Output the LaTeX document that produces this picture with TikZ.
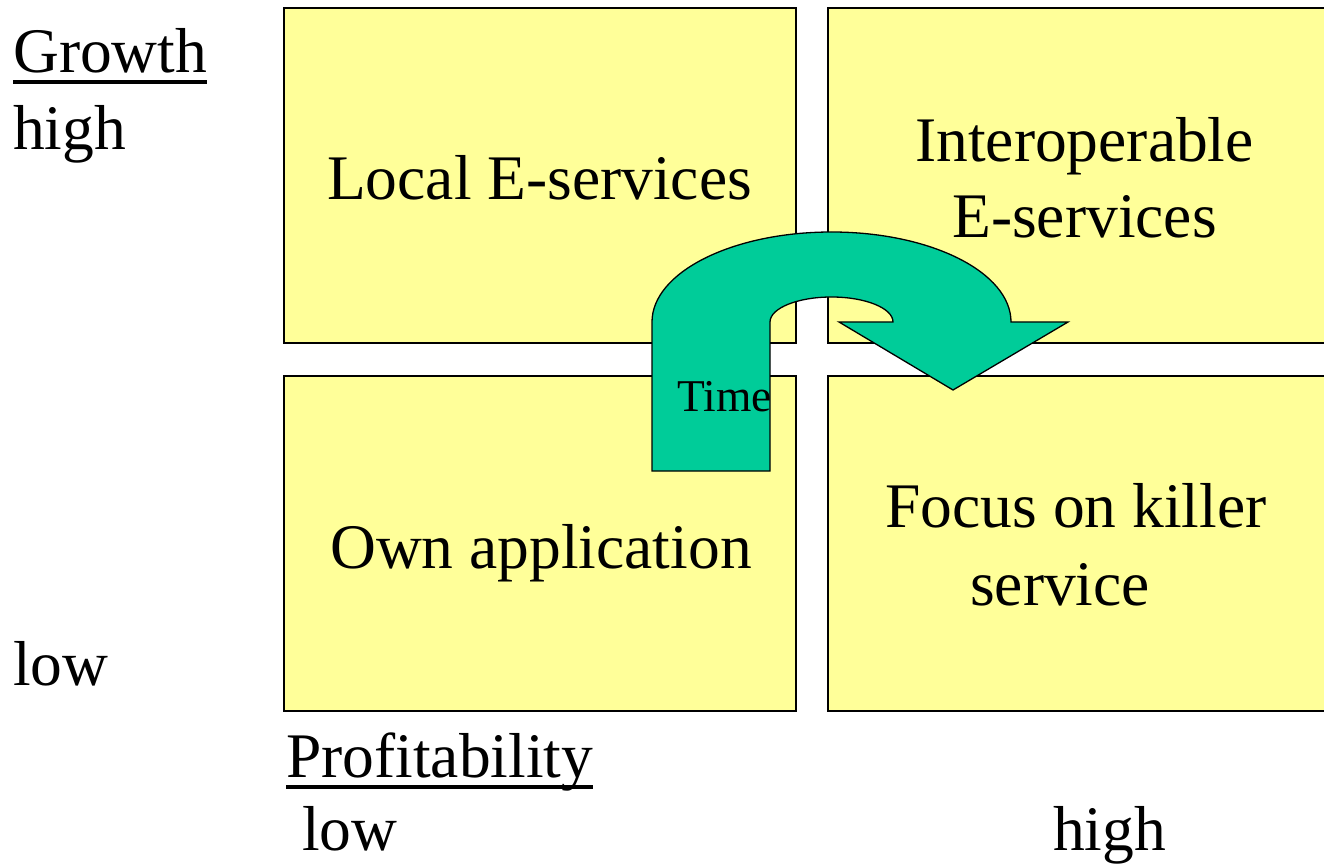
\documentclass[tikz,border=0pt]{standalone}
\usepackage{fontspec}
\setmainfont{Liberation Serif}
\definecolor{boxyellow}{HTML}{FFFF99}
\definecolor{arrowgreen}{HTML}{00CC99}
\begin{document}
\begin{tikzpicture}[x=1pt,y=1pt,
  quad/.style={draw=black,line width=1.3pt,fill=boxyellow},
  big/.style={inner sep=0pt,font=\fontsize{63.5}{76}\selectfont},
  small/.style={inner sep=0pt,font=\fontsize{45.5}{54}\selectfont},
  uline/.style={line width=3.4pt}]
\useasboundingbox (0,0) rectangle (1324,863);
\fill[white] (0,0) rectangle (1324,863);
% quadrants
\draw[quad] (284,855) rectangle (796,520);
\draw[quad] (828,855) rectangle (1326,520);
\draw[quad] (284,487) rectangle (796,152);
\draw[quad] (828,487) rectangle (1326,152);
% box texts
\node[big,anchor=base] (le) at (539.5,663) {Local E-services};
\node[big,anchor=base] (io1) at (1084.5,701) {Interoperable};
\node[big,anchor=base] (io2) at (1084.5,625) {E-services};
\node[big,anchor=base] (oa) at (541,295) {Own application};
\node[big,anchor=base] (fk1) at (1076,336) {Focus on killer};
\node[big,anchor=base] (fk2) at (1060,258) {service};
% arrow
\draw[fill=arrowgreen,line width=1.3pt,line join=miter]
  (652,392) -- (652,541)
  arc[start angle=180,end angle=0,x radius=179.5,y radius=90]
  -- (1068,541) -- (953,473) -- (839,541) -- (893,541)
  arc[start angle=0,end angle=180,x radius=61.5,y radius=25]
  -- (770,392) -- cycle;
\node[small,anchor=base west] (time) at (677,451) {Time};
% axis labels
\node[big,anchor=base west] (gr) at (13,790) {Growth};
\draw[uline] ([yshift=-9pt]gr.base west) -- ([yshift=-9pt]gr.base east);
\node[big,anchor=base west] (gh) at (13,713) {high};
\node[big,anchor=base west] (gl) at (13,178) {low};
\node[big,anchor=base west] (pr) at (286,86) {Profitability};
\draw[uline] ([yshift=-10pt]pr.base west) -- ([yshift=-10pt]pr.base east);
\node[big,anchor=base west] (pl) at (302,13) {low};
\node[big,anchor=base west] (ph) at (1053,13) {high};
\end{tikzpicture}
\end{document}
